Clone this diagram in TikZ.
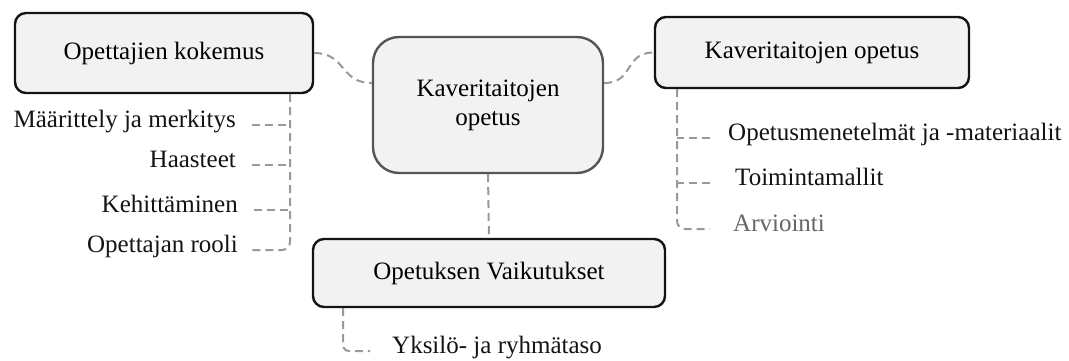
\documentclass[tikz,border=0pt]{standalone}
\usepackage{fontspec}
\setmainfont{Liberation Serif}
\definecolor{boxfill}{HTML}{F2F2F2}
\definecolor{conncol}{HTML}{999999}
\definecolor{centercol}{HTML}{555555}
\definecolor{greytext}{HTML}{666666}
\definecolor{boxline}{HTML}{141414}
\begin{document}
\begin{tikzpicture}[x=1pt,y=-1pt,
  box/.style={draw=boxline, line width=2.4pt, fill=boxfill, rounded corners=11pt, align=center,
    font=\fontsize{25}{29}\selectfont, inner sep=0pt},
  conn/.style={draw=conncol, line width=2pt, dash pattern=on 8pt off 5pt},
  lbl/.style={font=\fontsize{25}{29}\selectfont, inner sep=0pt, text=boxline}]
\fill[white] (0,0) rectangle (1069,361);
\useasboundingbox (0,0) rectangle (1069,361);

% main boxes
\node[box, minimum width=298pt, minimum height=80pt] (L) at (164,53) {Opettajien kokemus};
\node[box, draw=centercol, rounded corners=26pt, minimum width=230pt, minimum height=136pt] (C) at (488,105) {Kaveritaitojen\\opetus};
\node[box, minimum width=314pt, minimum height=71pt] (R) at (812,52.5) {Kaveritaitojen opetus};
\node[box, minimum width=352pt, minimum height=68pt] (B) at (489,273) {Opetuksen Vaikutukset};

% connectors between boxes
\draw[conn] (L.east) .. controls +(32,0) and +(-32,0) .. ([yshift=22pt]C.west);
\draw[conn] ([yshift=22pt]C.east) .. controls +(30,0) and +(-30,0) .. (R.west);
\draw[conn] (C.south) -- (B.north);

% left branch
\coordinate (Lt) at ([xshift=126pt]L.south);
\node[lbl, anchor=mid east] (l1) at (236,125) {Määrittely ja merkitys};
\node[lbl, anchor=mid east] (l2) at (236,165) {Haasteet};
\node[lbl, anchor=mid east] (l3) at (238,210) {Kehittäminen};
\node[lbl, anchor=mid east] (l4) at (238,250) {Opettajan rooli};
\draw[conn, rounded corners=8pt] (Lt) -- (Lt |- l4.mid) -- ([xshift=14pt]l4.mid east);
\foreach \n in {l1,l2,l3} \draw[conn] ([xshift=16pt]\n.mid east) -- (\n.mid east -| Lt);

% right branch
\coordinate (Rt) at ([xshift=-135pt]R.south);
\node[lbl, anchor=mid west] (r1) at (728,138) {Opetusmenetelmät ja -materiaalit};
\node[lbl, anchor=mid west] (r2) at (735,183) {Toimintamallit};
\node[lbl, anchor=mid west, text=greytext] (r3) at (733,229) {Arviointi};
\draw[conn, rounded corners=8pt] (Rt) -- (Rt |- r3.mid) -- ([xshift=-23pt]r3.mid west);
\draw[conn] ([xshift=-18pt]r1.mid west) -- (r1.mid west -| Rt);
\draw[conn] ([xshift=-25pt]r2.mid west) -- (r2.mid west -| Rt);

% bottom branch
\coordinate (Bt) at ([xshift=-146pt]B.south);
\node[lbl, anchor=mid west] (b1) at (392,351) {Yksilö- ja ryhmätaso};
\draw[conn, rounded corners=6pt] (Bt) -- (Bt |- b1.mid) -- ([xshift=-22pt]b1.mid west);
\end{tikzpicture}
\end{document}
